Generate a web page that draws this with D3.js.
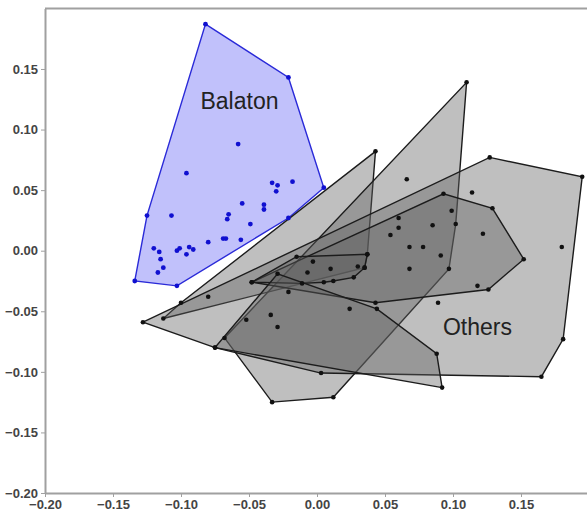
<!DOCTYPE html>
<html>
<head>
<meta charset="utf-8">
<script src="https://cdn.jsdelivr.net/npm/d3@7/dist/d3.min.js"></script>
<style>
  body { margin: 0; background: #fff; }
  svg { display: block; font-family: "Liberation Sans", Arial, sans-serif; }
</style>
</head>
<body>
<div id="chart"><svg></svg></div>
<script>
(function() {

  // tick values
  var xTicks = [-0.20, -0.15, -0.10, -0.05, 0.00, 0.05, 0.10, 0.15]
  var yTicks = [-0.20, -0.15, -0.10, -0.05, 0.00, 0.05, 0.10, 0.15]

  // Balaton samples
  var balaton = [
    [-0.082, 0.187], [-0.021, 0.143], [0.005, 0.052], [-0.021, 0.027],
    [-0.103, -0.029], [-0.134, -0.025], [-0.125, 0.029],
    [-0.058, 0.088], [-0.096, 0.064], [-0.107, 0.029], [-0.033, 0.056],
    [-0.029, 0.054], [-0.030, 0.049], [-0.018, 0.057], [-0.055, 0.039],
    [-0.039, 0.038], [-0.039, 0.034], [-0.065, 0.030], [-0.066, 0.026],
    [-0.049, 0.022], [-0.080, 0.007], [-0.069, 0.010], [-0.067, 0.010],
    [-0.056, 0.009], [-0.120, 0.002], [-0.116, -0.001], [-0.103, 0.000],
    [-0.101, 0.002], [-0.094, 0.003], [-0.091, 0.001], [-0.096, -0.003],
    [-0.115, -0.007], [-0.113, -0.014], [-0.117, -0.018]
  ]

  // the other lakes, one array each
  var lakeA = [
    [0.043, 0.082], [0.037, -0.003], [0.035, -0.014], [-0.113, -0.056],
    [-0.100, -0.043], [-0.080, -0.038]
  ]
  var lakeB = [
    [0.110, 0.139], [0.102, 0.022], [0.097, -0.015], [0.012, -0.121],
    [-0.033, -0.125], [-0.068, -0.072], [0.099, 0.033], [0.066, 0.059],
    [-0.052, -0.057], [-0.034, -0.053], [-0.029, -0.063], [-0.021, -0.034],
    [0.024, -0.048]
  ]
  var lakeC = [
    [-0.128, -0.059], [0.127, 0.077], [0.195, 0.061], [0.181, -0.073],
    [0.165, -0.104], [0.003, -0.101], [-0.075, -0.080],
    [0.114, 0.048], [0.180, 0.003], [0.089, -0.043]
  ]
  var lakeD = [
    [0.093, 0.047], [0.129, 0.035], [0.152, -0.007], [0.126, -0.032],
    [0.043, -0.043], [-0.048, -0.026], [0.060, 0.027], [0.060, 0.019],
    [0.054, 0.013], [0.085, 0.021], [0.122, 0.014], [0.068, 0.003],
    [0.078, 0.003], [0.091, -0.004], [0.068, -0.015], [0.118, -0.029]
  ]
  var lakeE = [
    [-0.048, -0.026], [-0.015, -0.005], [-0.003, -0.009], [0.010, -0.015],
    [-0.007, -0.018], [0.030, -0.013], [0.027, -0.022], [0.012, -0.025],
    [0.005, -0.026], [-0.011, -0.027], [0.037, -0.003], [0.035, -0.014]
  ]
  var lakeF = [
    [-0.075, -0.080], [-0.029, -0.019], [0.044, -0.048], [0.088, -0.085],
    [0.092, -0.113]
  ]
  var others = [lakeA, lakeB, lakeC, lakeD, lakeE, lakeF]

  var width = 587, height = 517

  var svg = d3.select("#chart")
    .select("svg")
    .attr("width", width)
    .attr("height", height)

  var xPositionScale = d3
    .scaleLinear()
    .domain([-0.2, 0.2])
    .range([45, 589])

  var yPositionScale = d3
    .scaleLinear()
    .domain([-0.2, 0.2])
    .range([493, 8.4])

  var line = d3.line()
    .x(function(d) { return xPositionScale(d[0]) })
    .y(function(d) { return yPositionScale(d[1]) })
    .curve(d3.curveLinearClosed)

  // Balaton hull first, the grey ones sit over it
  svg.append("path")
    .datum(d3.polygonHull(balaton))
    .attr("d", line)
    .attr("fill", "#2020f0")
    .attr("fill-opacity", 0.28)
    .attr("stroke", "#2a2ad8")
    .attr("stroke-width", 1.4)

  svg.selectAll(".hull")
    .data(others)
    .enter()
    .append("path")
    .attr("class", "hull")
    .attr("d", function(d) { return line(d3.polygonHull(d)) })
    .attr("fill", "#606060")
    .attr("fill-opacity", 0.4)
    .attr("stroke", "#1c1c1c")
    .attr("stroke-width", 1.4)

  svg.selectAll(".blue-dot")
    .data(balaton)
    .enter()
    .append("circle")
    .attr("class", "blue-dot")
    .attr("r", 2.4)
    .attr("cx", function(d) { return xPositionScale(d[0]) })
    .attr("cy", function(d) { return yPositionScale(d[1]) })
    .attr("fill", "#1010d0")

  svg.selectAll(".grey-dot")
    .data(d3.merge(others))
    .enter()
    .append("circle")
    .attr("class", "grey-dot")
    .attr("r", 2.3)
    .attr("cx", function(d) { return xPositionScale(d[0]) })
    .attr("cy", function(d) { return yPositionScale(d[1]) })
    .attr("fill", "#111")

  // labels
  svg.append("text")
    .attr("x", xPositionScale(-0.057))
    .attr("y", yPositionScale(0.117))
    .attr("text-anchor", "middle")
    .attr("font-size", 23)
    .attr("fill", "#222")
    .text("Balaton")

  svg.append("text")
    .attr("x", xPositionScale(0.118))
    .attr("y", yPositionScale(-0.0696))
    .attr("text-anchor", "middle")
    .attr("font-size", 23)
    .attr("fill", "#222")
    .text("Others")

  // frame top
  svg.append("line")
    .attr("x1", xPositionScale(-0.2))
    .attr("x2", width)
    .attr("y1", yPositionScale(0.2))
    .attr("y2", yPositionScale(0.2))
    .attr("stroke", "#a0a0a0")
    .attr("stroke-width", 2)

  var yAxis = d3.axisLeft(yPositionScale)
    .tickValues(yTicks)
    .tickFormat(d3.format(".2f"))
    .tickSize(4)
    .tickSizeOuter(0)
  svg.append("g")
    .attr("class", "axis y-axis")
    .attr("transform", "translate(45,0)")
    .call(yAxis)

  var xAxis = d3.axisBottom(xPositionScale)
    .tickValues(xTicks)
    .tickFormat(d3.format(".2f"))
    .tickSize(4)
    .tickSizeOuter(0)
  svg.append("g")
    .attr("class", "axis x-axis")
    .attr("transform", "translate(0,493)")
    .call(xAxis)

  svg.selectAll(".axis .domain")
    .attr("stroke", "#a0a0a0")
    .attr("stroke-width", 2)
  svg.selectAll(".axis .tick line")
    .attr("stroke", "#a0a0a0")
  svg.selectAll(".axis text")
    .attr("font-size", 13)
    .attr("font-weight", "bold")
    .attr("font-family", "Liberation Sans, Arial, sans-serif")
    .attr("fill", "#444")

})()
</script>
</body>
</html>
